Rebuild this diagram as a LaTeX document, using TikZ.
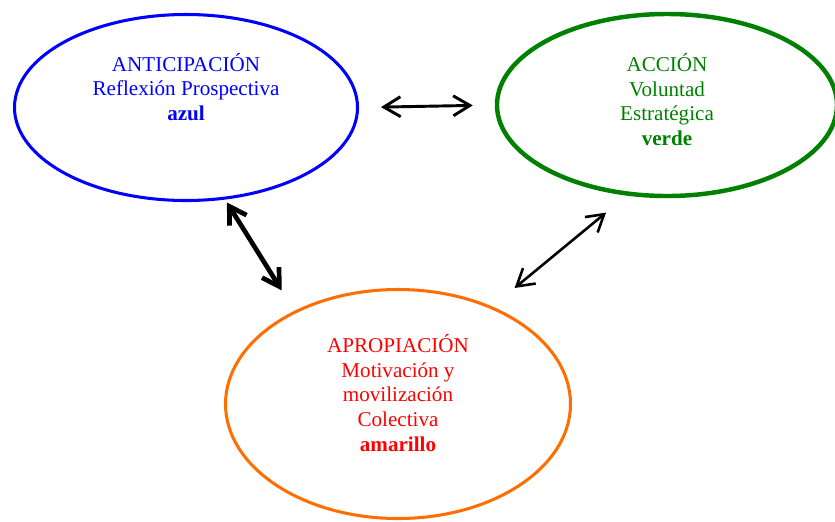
\documentclass[tikz,border=0pt]{standalone}
\usepackage{fontspec}
\setmainfont{Liberation Serif}
\usetikzlibrary{shapes.geometric,arrows.meta}
\definecolor{azul}{RGB}{0,0,255}
\definecolor{verde}{RGB}{0,128,0}
\definecolor{naranja}{RGB}{255,110,0}
\definecolor{rojo}{RGB}{255,0,0}
\tikzset{
    ovalo/.style={ellipse,inner sep=0pt},
    texto/.style={align=center,font=\fontsize{18}{21}\selectfont},
    flecha/.style={{Straight Barb[length=5mm,width=6mm]}-{Straight Barb[length=5mm,width=6mm]},line cap=round,line join=round}
}
\begin{document}
\begin{tikzpicture}[x=0.03cm,y=-0.03cm]
    \useasboundingbox (0,0) rectangle (835,521);
    \node [ovalo,draw=azul,line width=2.6pt,minimum width=10.29cm,minimum height=5.58cm] (anti) at (186,107.5) {};
    \node [ovalo,draw=verde,line width=3.8pt,minimum width=10.2cm,minimum height=5.46cm] (acc) at (667,105) {};
    \node [ovalo,draw=naranja,line width=2.6pt,minimum width=10.35cm,minimum height=6.87cm] (apro) at (398,404) {};
    \node [texto,text=azul] (antitxt) at (186,87) {ANTICIPACIÓN\\Reflexión Prospectiva\\\textbf{azul}};
    \node [texto,text=verde] (acctxt) at (667,99.5) {ACCIÓN\\Voluntad\\Estratégica\\\textbf{verde}};
    \node [texto,text=rojo] (aprotxt) at (398,393) {APROPIACIÓN\\Motivación y\\movilización\\Colectiva\\\textbf{amarillo}};
    \draw [flecha,line width=2.5pt,shorten <=0.66cm,shorten >=0.66cm] (anti.east) -- (acc.west);
    \draw [flecha,line width=4pt,shorten <=0.1cm,shorten >=0.72cm] (anti.-67) -- (apro.138);
    \draw [flecha,line width=2.2pt,shorten <=0.87cm,shorten >=0.8cm] (apro.46) -- (acc.-114);
\end{tikzpicture}
\end{document}
